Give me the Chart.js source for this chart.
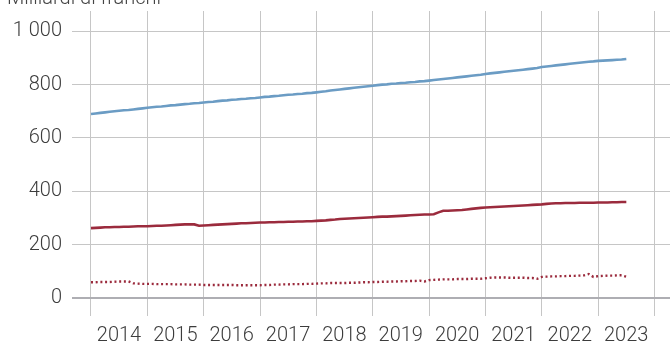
<!DOCTYPE html>
<html>
<head>
<meta charset="utf-8">
<script src="https://cdn.jsdelivr.net/npm/chart.js@4.4.1/dist/chart.umd.min.js"></script>
<style>
  html, body { margin: 0; padding: 0; background: #fff; }
  #wrap { width: 670px; height: 343px; }
</style>
</head>
<body>
<div id="wrap"><canvas id="chart" width="670" height="343"></canvas></div>
<script>
// monthly series, Jan 2014 .. Jul 2023 (billion CHF)
var startYear = 2014;
var blueSeries = [
  690, 692, 694, 696, 698, 700, 702, 704, 705, 707, 709, 711,
  713, 715, 717, 718, 720, 722, 723, 725, 727, 728, 730, 731,
  733, 735, 736, 738, 740, 741, 743, 744, 746, 747, 749, 750,
  752, 754, 755, 757, 758, 760, 762, 763, 765, 766, 768, 769,
  771, 773, 775, 778, 780, 782, 784, 786, 788, 790, 792, 794,
  796, 798, 800, 801, 803, 804, 806, 807, 809, 810, 812, 813,
  815, 817, 819, 821, 823, 825, 827, 829, 831, 833, 835, 837,
  840, 842, 844, 846, 848, 850, 852, 854, 856, 858, 860, 862,
  866, 868, 870, 872, 874, 876, 878, 880, 882, 884, 886, 887,
  889, 890, 891, 892, 893, 894, 896
];
var redSeries = [
  262, 263, 264, 265, 265, 266, 266, 267, 267, 268, 269, 269,
  269, 270, 271, 271, 272, 273, 274, 275, 276, 276, 276, 271,
  272, 273, 274, 275, 276, 277, 278, 279, 280, 280, 281, 282,
  283, 283, 284, 284, 285, 285, 286, 286, 287, 287, 288, 288,
  289, 290, 291, 293, 294, 296, 297, 298, 299, 300, 301, 302,
  303, 304, 305, 305, 306, 307, 308, 309, 310, 311, 312, 313,
  313, 314, 321, 327, 327, 328, 329, 330, 332, 334, 336, 338,
  339, 340, 341, 342, 343, 344, 345, 346, 347, 348, 349, 350,
  351, 353, 354, 355, 355, 356, 356, 356, 357, 357, 357, 357,
  358, 358, 358, 359, 359, 360, 360
];
var dottedSeries = [
  59, 59, 60, 60, 60, 61, 62, 62, 62, 55, 54, 53,
  53, 53, 52, 52, 52, 52, 51, 51, 51, 50, 50, 50,
  49, 49, 49, 49, 49, 49, 49, 48, 48, 48, 48, 48,
  48, 49, 49, 50, 50, 51, 51, 52, 52, 52, 53, 53,
  54, 55, 55, 56, 56, 56, 56, 57, 57, 58, 59, 59,
  60, 60, 61, 61, 62, 62, 63, 63, 64, 64, 65, 62,
  67, 68, 69, 70, 70, 70, 71, 71, 71, 72, 72, 72,
  74, 76, 77, 77, 77, 76, 76, 76, 76, 75, 75, 72,
  79, 80, 81, 81, 82, 82, 83, 83, 84, 85, 90, 79,
  82, 83, 84, 84, 85, 85, 80
];
var yearTicks = [2014, 2015, 2016, 2017, 2018, 2019, 2020, 2021, 2022, 2023, 2024];
var valueTicks = [0, 200, 400, 600, 800, 1000];
var unitLabel = 'Milliardi di franchi';

var BLUE = '#6b9cc4';
var RED = '#9b2b3d';
var GRID = '#c6c6c6';
var FONT = 'Roboto, "Noto Sans", sans-serif';

function toPoints(arr) {
  return arr.map(function (v, i) { return { x: startYear + i / 12, y: v }; });
}

function fmt(v) {
  return String(v).replace(/\B(?=(\d{3})+(?!\d))/g, ' ');
}

// no extra room for half-labels at the axis ends
function noEndPadding(s) {
  s.paddingTop = 0; s.paddingBottom = 0;
  s.paddingLeft = 0; s.paddingRight = 0;
}

var unitTitle = {
  id: 'unitTitle',
  afterDraw: function (chart) {
    var ctx = chart.ctx;
    ctx.save();
    ctx.font = '300 20px ' + FONT;
    ctx.fillStyle = '#444';
    ctx.textAlign = 'left';
    ctx.textBaseline = 'alphabetic';
    ctx.fillText(unitLabel, 7, 4);
    ctx.restore();
  }
};

new Chart(document.getElementById('chart'), {
  type: 'line',
  data: {
    datasets: [
      { data: toPoints(blueSeries), borderColor: BLUE, borderWidth: 2.6 },
      { data: toPoints(redSeries), borderColor: RED, borderWidth: 2.6 },
      { data: toPoints(dottedSeries), borderColor: RED, borderWidth: 2.4, borderDash: [2, 2.7], borderCapStyle: 'butt' }
    ]
  },
  options: {
    responsive: false,
    animation: false,
    devicePixelRatio: 1,
    layout: { padding: { left: 0, right: 0, top: 11, bottom: 0 } },
    elements: { point: { radius: 0 }, line: { tension: 0 } },
    plugins: { legend: { display: false }, tooltip: { enabled: false } },
    scales: {
      x: {
        type: 'linear',
        min: 2013.663,
        max: 2024.275,
        afterBuildTicks: function (s) { s.ticks = yearTicks.map(function (v) { return { value: v }; }); },
        afterFit: function (s) { s.height = 27; noEndPadding(s); },
        border: { display: false },
        grid: { color: GRID, lineWidth: 1, drawTicks: false },
        ticks: {
          autoSkip: false,
          maxRotation: 0,
          padding: 8,
          labelOffset: 28,
          color: '#3c3c3c',
          font: { family: FONT, size: 20, weight: '300' },
          callback: function (v) { return v < 2024 ? String(v) : ''; }
        }
      },
      y: {
        min: -67.5,
        max: 1076,
        afterBuildTicks: function (s) { s.ticks = valueTicks.map(function (v) { return { value: v }; }); },
        afterFit: function (s) { s.width = 72; noEndPadding(s); },
        border: { display: false },
        grid: {
          drawTicks: false,
          color: function (c) { return c.tick && c.tick.value === 0 ? '#aeaeb3' : GRID; },
          lineWidth: function (c) { return c.tick && c.tick.value === 0 ? 2 : 1; }
        },
        ticks: {
          padding: 10,
          color: '#3c3c3c',
          font: { family: FONT, size: 20, weight: '300' },
          callback: function (v) { return fmt(v); }
        }
      }
    }
  },
  plugins: [unitTitle]
});
</script>
</body>
</html>
